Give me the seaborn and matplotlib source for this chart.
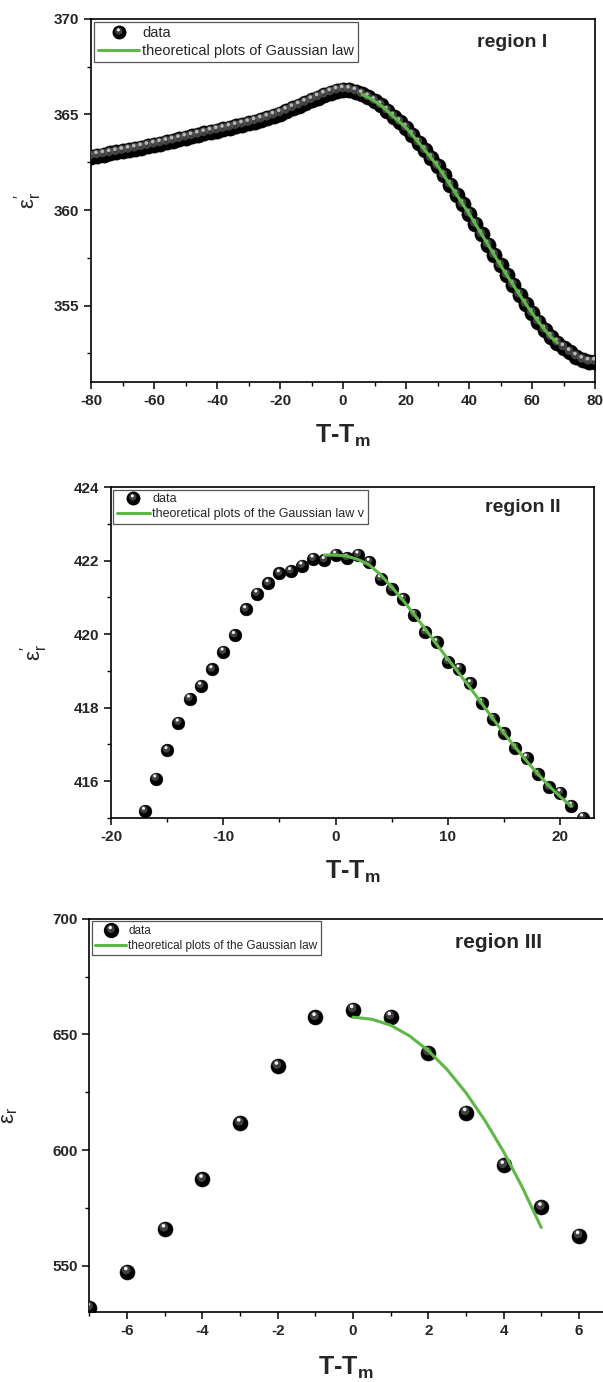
import matplotlib
matplotlib.use("Agg")
import matplotlib.pyplot as plt
import seaborn as sns
from matplotlib.path import Path
from matplotlib.lines import Line2D
from matplotlib.legend_handler import HandlerTuple
from matplotlib.ticker import MultipleLocator

# region I : dense sweep, step 2 degrees
temp1 = list(range(-80, 81, 2))
eps1 = [362.80, 362.85, 362.90, 362.96, 363.02, 363.08, 363.14, 363.20, 363.27, 363.34,
        363.41, 363.48, 363.55, 363.62, 363.70, 363.78, 363.85, 363.93, 364.01, 364.09,
        364.16, 364.23, 364.30, 364.38, 364.46, 364.54, 364.63, 364.72, 364.82, 364.93,
        365.05, 365.18, 365.32, 365.46, 365.60, 365.74, 365.88, 366.02, 366.14, 366.24,
        366.30, 366.28, 366.20, 366.05, 365.89, 365.70, 365.47, 365.19, 364.88, 364.60,
        364.30, 363.92, 363.52, 363.12, 362.71, 362.30, 361.81, 361.31, 360.81, 360.30,
        359.80, 359.26, 358.72, 358.18, 357.64, 357.10, 356.58, 356.07, 355.57, 355.08,
        354.60, 354.15, 353.73, 353.35, 353.05, 352.80, 352.55, 352.32, 352.15, 352.05,
        352.05]
# gaussian law follows the data from 6 to 68
fit1_x = temp1[43:75]
fit1_y = eps1[43:75]

# region II
temp2 = list(range(-17, 23))
eps2 = [415.19, 416.07, 416.84, 417.59, 418.24, 418.59, 419.04, 419.52, 419.97, 420.67,
        421.10, 421.38, 421.65, 421.71, 421.86, 422.05, 422.01, 422.16, 422.07, 422.16,
        421.96, 421.51, 421.23, 420.96, 420.53, 420.05, 419.78, 419.25, 419.06, 418.66,
        418.14, 417.70, 417.30, 416.91, 416.64, 416.19, 415.83, 415.69, 415.33, 415.01]
fit2_x = list(range(-1, 22))
fit2_y = [422.15, 422.15, 422.12, 422.03, 421.88, 421.62, 421.28, 420.92, 420.53, 420.13,
          419.72, 419.32, 418.93, 418.53, 418.12, 417.70, 417.30, 416.92, 416.55, 416.20,
          415.87, 415.58, 415.32]

# region III
temp3 = [-7, -6, -5, -4, -3, -2, -1, 0, 1, 2, 3, 4, 5, 6]
eps3 = [531.9, 547.4, 565.9, 587.4, 611.7, 636.3, 657.4, 660.8, 657.7, 642.2,
        616.2, 593.4, 575.3, 563.0]
fit3_x = [0, 0.5, 1, 1.5, 2, 2.5, 3, 3.5, 4, 4.5, 5]
fit3_y = [657.5, 656.6, 654.0, 649.4, 643.0, 634.8, 624.8, 612.9, 599.3, 583.8, 566.5]

GREEN = "#5DB846"

sns.set_style("ticks")
plt.rcParams["font.family"] = ["Liberation Sans", "DejaVu Sans"]
plt.rcParams["axes.unicode_minus"] = False
plt.rcParams["mathtext.fontset"] = "custom"
plt.rcParams["mathtext.rm"] = "Liberation Sans"
plt.rcParams["mathtext.it"] = "Liberation Sans:italic"
plt.rcParams["mathtext.bf"] = "Liberation Sans:bold"


def glint(cx, cy, r):
    # small circle inside an invisible unit frame so it keeps its offset
    frame = Path([[-1, -1], [1, 1]], [Path.MOVETO, Path.MOVETO])
    return Path.make_compound_path(frame, Path.circle((cx, cy), r))


SHADE = glint(-0.12, 0.22, 0.58)
SPOT = glint(-0.18, 0.42, 0.24)


def spheres(ax, x, y, size, spot="#f4f4f4"):
    sns.scatterplot(x=x, y=y, ax=ax, s=size, color="black", edgecolor="black",
                    linewidth=0.4, zorder=2)
    sns.scatterplot(x=x, y=y, ax=ax, s=size, marker=SHADE, color="#5c5c5c",
                    edgecolor="none", linewidth=0, alpha=0.7, zorder=3)
    sns.scatterplot(x=x, y=y, ax=ax, s=size, marker=SPOT, color=spot,
                    edgecolor="none", linewidth=0, zorder=4)


def add_legend(ax, label, fs, ms, hl):
    ball = (Line2D([], [], ls="none", marker="o", color="black", markersize=ms),
            Line2D([], [], ls="none", marker=SHADE, color="#5c5c5c", alpha=0.7,
                   markersize=ms, markeredgewidth=0),
            Line2D([], [], ls="none", marker=SPOT, color="#f4f4f4", markersize=ms,
                   markeredgewidth=0))
    line = Line2D([], [], color=GREEN, lw=2.2)
    leg = ax.legend([ball, line], ["data", label], loc="upper left", fontsize=fs,
                    handlelength=hl, handletextpad=0.2, borderaxespad=0.2,
                    borderpad=0.3, labelspacing=0.25, fancybox=False, framealpha=1,
                    edgecolor="#555555",
                    handler_map={tuple: HandlerTuple(ndivide=1, pad=0)})
    leg.get_frame().set_linewidth(0.9)


def style(ax, xmaj, xmin, ymaj, ymin):
    ax.xaxis.set_major_locator(MultipleLocator(xmaj))
    ax.xaxis.set_minor_locator(MultipleLocator(xmin))
    ax.yaxis.set_major_locator(MultipleLocator(ymaj))
    ax.yaxis.set_minor_locator(MultipleLocator(ymin))
    ax.tick_params(which="major", direction="out", length=5, width=1.1,
                   labelsize=11, color="black")
    ax.tick_params(which="minor", direction="out", length=3, width=1.0, color="black")
    for sp in ax.spines.values():
        sp.set_linewidth(1.2)
        sp.set_color("black")
    plt.setp(ax.get_xticklabels(), fontweight="bold")
    plt.setp(ax.get_yticklabels(), fontweight="bold")


fig = plt.figure(figsize=(6.03, 13.82), dpi=100)
ax1 = fig.add_axes([0.151, 0.7236, 0.836, 0.2627])
ax2 = fig.add_axes([0.184, 0.4081, 0.801, 0.2395])
ax3 = fig.add_axes([0.1484, 0.0507, 0.8516, 0.2844])

# ---- region I
spheres(ax1, temp1, eps1, 120, spot="#b8b8b8")
sns.lineplot(x=fit1_x, y=fit1_y, ax=ax1, color=GREEN, lw=2.2, zorder=5)
ax1.set_xlim(-80, 80)
ax1.set_ylim(351, 370)
style(ax1, 20, 10, 5, 2.5)
add_legend(ax1, "theoretical plots of Gaussian law", 10.5, 9, 2.8)
ax1.text(0.835, 0.934, "region I", transform=ax1.transAxes, ha="center",
         va="center", fontsize=14, fontweight="bold")
ax1.set_ylabel("ε$_{\\mathrm{r}}^{\\prime}$", fontsize=16)
ax1.yaxis.set_label_coords(-0.093, 0.5)

# ---- region II
spheres(ax2, temp2, eps2, 84)
sns.lineplot(x=fit2_x, y=fit2_y, ax=ax2, color=GREEN, lw=2.2, zorder=5)
ax2.set_xlim(-20, 23)
ax2.set_ylim(415, 424)
style(ax2, 10, 5, 2, 1)
add_legend(ax2, "theoretical plots of the Gaussian law v", 9, 9, 2.6)
ax2.text(0.853, 0.937, "region II", transform=ax2.transAxes, ha="center",
         va="center", fontsize=14, fontweight="bold")
ax2.set_ylabel("ε$_{\\mathrm{r}}^{\\prime}$", fontsize=16)
ax2.yaxis.set_label_coords(-0.126, 0.5)

# ---- region III
spheres(ax3, temp3, eps3, 117)
sns.lineplot(x=fit3_x, y=fit3_y, ax=ax3, color=GREEN, lw=2.2, zorder=5)
ax3.set_xlim(-7, 6.64)
ax3.set_ylim(530, 700)
style(ax3, 2, 1, 50, 25)
ax3.spines["right"].set_visible(False)
add_legend(ax3, "theoretical plots of the Gaussian law", 8.5, 10, 2.6)
ax3.text(0.796, 0.939, "region III", transform=ax3.transAxes, ha="center",
         va="center", fontsize=15, fontweight="bold")
ax3.set_ylabel("ε$_{\\mathrm{r}}$", fontsize=16)
ax3.yaxis.set_label_coords(-0.135, 0.5)

for ax, ly in [(ax1, -0.113), (ax2, -0.124), (ax3, -0.109)]:
    ax.set_xlabel("T-T$_{\\mathbf{m}}$", fontsize=18, fontweight="bold", va="top")
    ax.xaxis.set_label_coords(0.5, ly)

fig.savefig("out.png", dpi=100)
